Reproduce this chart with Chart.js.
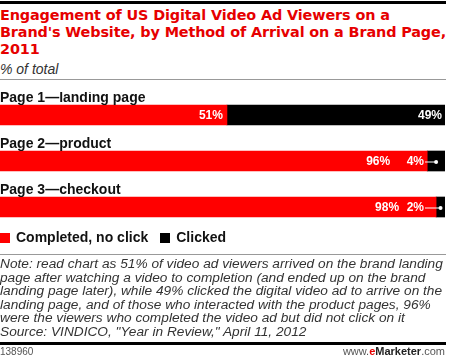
<!DOCTYPE html>
<html>
<head>
<meta charset="utf-8">
<script src="https://cdn.jsdelivr.net/npm/chart.js@4"></script>
<style>
  html, body { margin: 0; padding: 0; background: #fff; }
  body { width: 450px; height: 360px; position: relative; overflow: hidden; font-family: "Liberation Sans", Arial, sans-serif; }
  .rule { position: absolute; left: 0; width: 446px; }
  #title { position: absolute; left: 0; top: 7px; width: 460px; color: #e60000; font-family: "DejaVu Sans", sans-serif; font-weight: bold; font-size: 14.4px; letter-spacing: -0.12px; line-height: 17px; white-space: nowrap; }
  #subtitle { position: absolute; left: 0; top: 61px; color: #333; font-style: italic; font-size: 14px; }
  #chart-box { position: absolute; left: 0; top: 92px; width: 445px; height: 138px; }
  #legend { position: absolute; left: 0; top: 229px; font-weight: bold; font-size: 14px; color: #111; white-space: nowrap; }
  #legend span.sw { display: inline-block; width: 10px; height: 10px; vertical-align: -1px; margin-right: 6px; }
  #legend span.item { margin-right: 12px; }
  #note { position: absolute; left: 0; top: 257px; color: #333; font-style: italic; font-size: 13.7px; line-height: 13.5px; white-space: nowrap; }
  #footer-id { position: absolute; left: 0; top: 346px; font-size: 10px; color: #555; }
  #footer-site { position: absolute; right: 5px; top: 345px; font-size: 11px; color: #555; }
</style>
</head>
<body>
<div class="rule" style="top:1px;height:3px;background:#000"></div>
<div id="title">Engagement of US Digital Video Ad Viewers on a<br>Brand's Website, by Method of Arrival on a Brand Page,<br>2011</div>
<div id="subtitle">% of total</div>
<div class="rule" style="top:79px;height:1px;background:#999"></div>
<div id="chart-box"><canvas id="chart"></canvas></div>
<div id="legend"></div>
<div class="rule" style="top:254px;height:1px;background:#999"></div>
<div id="note">Note: read chart as 51% of video ad viewers arrived on the brand landing<br>page after watching a video to completion (and ended up on the brand<br>landing page later), while 49% clicked the digital video ad to arrive on the<br>landing page, and of those who interacted with the product pages, 96%<br>were the viewers who completed the video ad but did not click on it<br>Source: VINDICO, "Year in Review," April 11, 2012</div>
<div class="rule" style="top:342px;height:3px;background:#000"></div>
<div id="footer-id">138960</div>
<div id="footer-site">www.<span style="color:#e60000;font-weight:bold">e</span><b style="color:#222">Marketer</b>.com</div>

<script>
// Data
const categories = ["Page 1\u2014landing page", "Page 2\u2014product", "Page 3\u2014checkout"];
const seriesNames = ["Completed, no click", "Clicked"];
const completed = [51, 96, 98];
const clicked = [49, 4, 2];
const seriesColors = ["#ff0000", "#000000"];

// Legend
const legendEle = document.getElementById("legend");
legendEle.innerHTML = seriesNames
  .map((name, i) => `<span class="item"><span class="sw" style="background:${seriesColors[i]}"></span>${name}</span>`)
  .join("");

// Category titles above bars + value labels inside bars
const barLabels = {
  id: "barLabels",
  afterDatasetsDraw(chart) {
    const { ctx, scales } = chart;
    const x = scales.x;
    const metaRed = chart.getDatasetMeta(0);
    ctx.save();
    categories.forEach((cat, i) => {
      const bar = metaRed.data[i];
      const cy = bar.y;
      const h = bar.height;
      // category title
      ctx.fillStyle = "#111";
      ctx.font = "bold 14px 'Liberation Sans', Arial, sans-serif";
      ctx.textAlign = "left";
      ctx.textBaseline = "alphabetic";
      ctx.fillText(cat, 0, cy - h / 2 - 3);

      const redEnd = x.getPixelForValue(completed[i]);
      const totalEnd = x.getPixelForValue(completed[i] + clicked[i]);
      ctx.fillStyle = "#fff";
      ctx.strokeStyle = "#fff";
      ctx.font = "bold 12px 'Liberation Sans', Arial, sans-serif";
      ctx.textAlign = "right";
      ctx.textBaseline = "middle";
      if (clicked[i] >= 10) {
        ctx.fillText(completed[i] + "%", redEnd - 4, cy + 1);
        ctx.fillText(clicked[i] + "%", totalEnd - 3, cy + 1);
      } else {
        const lblRight = totalEnd - 21;
        ctx.fillText(clicked[i] + "%", lblRight, cy + 1);
        ctx.fillText(completed[i] + "%", redEnd - 37, cy + 1);
        const dotX = (redEnd + totalEnd) / 2;
        ctx.lineWidth = 1;
        ctx.beginPath();
        ctx.moveTo(lblRight + 1, cy + 1);
        ctx.lineTo(dotX, cy + 1);
        ctx.stroke();
        ctx.beginPath();
        ctx.arc(dotX, cy + 1, 2, 0, Math.PI * 2);
        ctx.fill();
      }
    });
    ctx.restore();
  },
};

new Chart(document.getElementById("chart"), {
  type: "bar",
  data: {
    labels: categories,
    datasets: [
      { label: seriesNames[0], data: completed, backgroundColor: seriesColors[0], barThickness: 20 },
      { label: seriesNames[1], data: clicked, backgroundColor: seriesColors[1], barThickness: 20 },
    ],
  },
  options: {
    indexAxis: "y",
    responsive: true,
    maintainAspectRatio: false,
    animation: false,
    layout: { padding: 0 },
    plugins: { legend: { display: false }, tooltip: { enabled: false } },
    scales: {
      x: { stacked: true, min: 0, max: 100, display: false },
      y: { stacked: true, display: false },
    },
  },
  plugins: [barLabels],
});
</script>
</body>
</html>
